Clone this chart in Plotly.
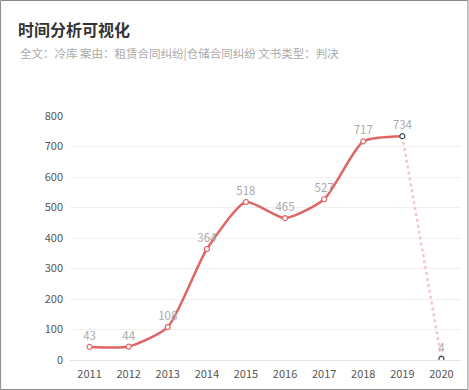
import plotly.graph_objects as go

years = ["2011", "2012", "2013", "2014", "2015", "2016", "2017", "2018", "2019", "2020"]
counts = [43, 44, 108, 364, 518, 465, 527, 717, 734, 4]
y_ticks = [0, 100, 200, 300, 400, 500, 600, 700, 800]

title_text = "时间分析可视化"
subtitle_text = "全文：冷库 案由：租赁合同纠纷|仓储合同纠纷 文书类型：判决"

W, H = 469, 390
ML, MR, MT, MB = 70, 7.5, 116, 30
PW = W - ML - MR
PH = H - MT - MB

RED = "#e06666"
FONT = "Noto Sans CJK SC"

fig = go.Figure()

# solid smooth part
fig.add_trace(go.Scatter(
    x=years[:9], y=counts[:9], mode="lines",
    line=dict(color=RED, width=2.5, shape="spline", smoothing=0.6),
    hoverinfo="skip", showlegend=False))
# dotted last segment
fig.add_trace(go.Scatter(
    x=years[8:], y=counts[8:], mode="lines",
    line=dict(color="#f4c6cc", width=2.5, dash="dot"),
    hoverinfo="skip", showlegend=False))
# markers + labels
marker_colors = [RED] * 8 + ["#3a4a60", "#3a4a60"]
fig.add_trace(go.Scatter(
    x=years, y=counts, mode="markers+text",
    text=[str(v) for v in counts], textposition="top center",
    textfont=dict(color="#aaaaaa", size=11.5, family=FONT),
    marker=dict(symbol="circle", size=5, color="white",
                line=dict(color=marker_colors, width=1.2)),
    showlegend=False))

fig.update_layout(
    width=W, height=H,
    margin=dict(l=ML, r=MR, t=MT, b=MB, pad=0),
    paper_bgcolor="white", plot_bgcolor="white",
    font=dict(family=FONT, size=11, color="#555555"),
    title=dict(text="<b>" + title_text + "</b>", xref="container", yref="container",
               x=18 / W, xanchor="left", y=1 - 30 / H, yanchor="middle",
               font=dict(size=16, color="#333333", family=FONT)),
    xaxis=dict(type="category", categoryorder="array", categoryarray=years,
               range=[-0.5, 9.5], showgrid=False, zeroline=False,
               showline=True, linecolor="#e6e6e6", linewidth=1,
               ticks="", tickfont=dict(size=11, color="#555555"),
               ticklabelstandoff=4),
    yaxis=dict(range=[0, 800], tickvals=y_ticks, showgrid=True,
               gridcolor="#f0f0f0", gridwidth=1, zeroline=False,
               showline=False, ticks="", tickfont=dict(size=11, color="#555555"),
               ticklabelstandoff=6),
    annotations=[dict(text=subtitle_text, xref="paper", yref="paper",
                      x=(18 - ML) / PW, y=(H - MB - 53) / PH,
                      xanchor="left", yanchor="middle", showarrow=False,
                      font=dict(size=11.5, color="#aaaaaa", family=FONT))],
    shapes=[dict(type="rect", xref="paper", yref="paper",
                 x0=(0.5 - ML) / PW, x1=(W - 0.5 - ML) / PW,
                 y0=(H - MB - (H - 0.5)) / PH, y1=(H - MB - 0.5) / PH,
                 line=dict(color="#8a8a8a", width=1), fillcolor="rgba(0,0,0,0)",
                 layer="above")],
)

fig.write_html("out.html", config={"displayModeBar": False},
               post_script="document.body.style.margin='0';document.body.style.overflow='hidden';")
